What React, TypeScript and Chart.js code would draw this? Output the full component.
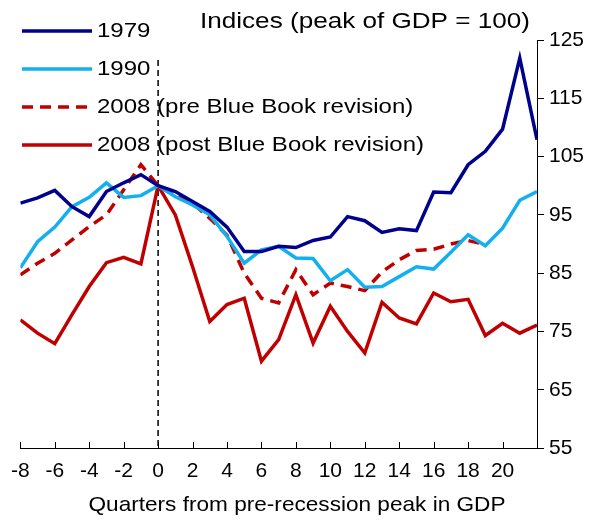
import React, { useEffect, useRef } from "react";
import { Chart, registerables } from "chart.js";

Chart.register(...registerables);

const quarters = [-8,-7,-6,-5,-4,-3,-2,-1,0,1,2,3,4,5,6,7,8,9,10,11,12,13,14,15,16,17,18,19,20,21,22];
const s1979 = [97, 97.9, 99.2, 96.4, 94.7, 99, 100.5, 101.9, 100, 99, 97.3, 95.6, 92.9, 88.7, 88.7, 89.6, 89.4, 90.6, 91.2, 94.7, 94.0, 92.0, 92.6, 92.3, 98.9, 98.8, 103.6, 105.9, 109.7, 121.9, 107.9];
const s1990 = [85.9, 90.4, 92.9, 96.4, 98.0, 100.5, 98.0, 98.3, 100, 98.1, 96.7, 95, 91.3, 86.7, 89, 89.6, 87.6, 87.5, 83.7, 85.6, 82.6, 82.7, 84.4, 86.1, 85.7, 88.6, 91.6, 89.7, 92.7, 97.5, 99.0];
const s2008pre: (number | null)[] = [84.7, 86.7, 88.4, 90.7, 93.0, 95, 99.3, 103.6, 100, 98.8, 97, 94.4, 91.5, 85, 80.7, 79.9, 85.6, 81.3, 83.3, 82.7, 82.0, 85.2, 87.3, 88.9, 89.1, 90, 90.6, 89.9, null, null, null];
const s2008post = [77, 74.7, 72.9, 77.9, 82.7, 86.8, 87.7, 86.6, 100, 95, 86.1, 76.7, 79.6, 80.7, 69.9, 73.6, 81.3, 73.0, 79.3, 75, 71.3, 80.0, 77.3, 76.3, 81.6, 80.1, 80.5, 74.3, 76.4, 74.7, 76.1];

const seriesNames = ["1979", "1990", "2008 (pre Blue Book revision)", "2008 (post Blue Book revision)"];
const seriesColors = ["#00008f", "#12b0ee", "#c00000", "#c00000"];
const seriesDashed = [false, false, true, false];
const titleText = "Indices (peak of GDP = 100)";
const xTitle = "Quarters from pre-recession peak in GDP";
const FONT = "'Liberation Sans', Arial, sans-serif";

const toPts = (arr: (number | null)[]) => quarters.map((q, i) => ({ x: q, y: arr[i] }));

function stretchText(c: CanvasRenderingContext2D, text: string, x: number, y: number, sx: number, align: "left" | "center") {
  c.save();
  const w = c.measureText(text).width * sx;
  const left = align === "center" ? x - w / 2 : x;
  c.translate(left, y);
  c.scale(sx, 1);
  c.textAlign = "left";
  c.fillText(text, 0, 0);
  c.restore();
}

export default function App() {
  const ref = useRef<HTMLCanvasElement>(null);
  useEffect(() => {
    document.body.style.margin = "0";
    const ctx = ref.current!;
    const overlay = {
      id: "overlay",
      beforeDatasetsDraw(chart: any) {
        const c = chart.ctx;
        const xs = chart.scales.x;
        const area = chart.chartArea;
        c.save();
        c.strokeStyle = "#000";
        c.lineWidth = 1.5;
        c.setLineDash([6, 4]);
        const x0 = xs.getPixelForValue(0);
        c.beginPath();
        c.moveTo(x0, 60);
        c.lineTo(x0, area.bottom);
        c.stroke();
        c.setLineDash([]);
        c.lineWidth = 1;
        for (let q = -8; q <= 22; q += 2) {
          const px = Math.round(xs.getPixelForValue(q)) + 0.5;
          c.beginPath();
          c.moveTo(px, area.bottom);
          c.lineTo(px, area.bottom - 6);
          c.stroke();
        }
        c.restore();
      },
      afterDraw(chart: any) {
        const c = chart.ctx;
        c.save();
        c.fillStyle = "#000";
        c.textBaseline = "middle";
        c.font = `22px ${FONT}`;
        stretchText(c, titleText, 365, 22, 330 / c.measureText(titleText).width, "center");
        c.font = `21px ${FONT}`;
        stretchText(c, xTitle, 297, 505, 417 / c.measureText(xTitle).width, "center");
        const ys = [31, 69, 107, 145];
        const legSx = 327 / c.measureText(seriesNames[3]).width;
        for (let i = 0; i < 4; i++) {
          c.strokeStyle = seriesColors[i];
          c.lineWidth = 3.5;
          c.setLineDash(seriesDashed[i] ? [11, 7] : []);
          c.beginPath();
          c.moveTo(22, ys[i]);
          c.lineTo(92, ys[i]);
          c.stroke();
          stretchText(c, seriesNames[i], 97, ys[i], legSx, "left");
        }
        c.restore();
      },
    };
    const chart = new Chart(ctx, {
      type: "line",
      data: {
        datasets: [s1979, s1990, s2008pre, s2008post].map((arr, i) => ({
          label: seriesNames[i],
          data: toPts(arr),
          borderColor: seriesColors[i],
          backgroundColor: seriesColors[i],
          borderWidth: 3.5,
          borderDash: seriesDashed[i] ? [11, 7] : [],
          pointRadius: 0,
          tension: 0,
          spanGaps: false,
        })),
      },
      options: {
        responsive: false,
        animation: false,
        layout: { padding: { left: 19, top: 40, right: 0, bottom: 0 } },
        plugins: { legend: { display: false }, tooltip: { enabled: false }, title: { display: false } },
        scales: {
          x: {
            type: "linear",
            min: -8,
            max: 22,
            grid: { display: true, drawOnChartArea: false, drawTicks: false, color: "#000" },
            border: { display: true, color: "#000", width: 1 },
            ticks: {
              stepSize: 2,
              autoSkip: false,
              maxRotation: 0,
              padding: 11,
              color: "#000",
              font: { size: 21, family: FONT },
              callback: (v: any) => (Number(v) > 20 ? "" : String(v)),
            },
            afterFit: (s: any) => { s.height = 75; },
          },
          y: {
            position: "right",
            min: 55,
            max: 125,
            grid: { display: true, drawOnChartArea: false, drawTicks: true, tickLength: 7, color: "#000" },
            border: { display: true, color: "#000", width: 1 },
            ticks: {
              stepSize: 10,
              padding: 5,
              color: "#000",
              font: { size: 21, family: FONT },
            },
            afterFit: (s: any) => { s.width = 63; },
          },
        },
      },
      plugins: [overlay],
    } as any);
    return () => chart.destroy();
  }, []);
  return (
    <div style={{ width: 600, height: 523 }}>
      <canvas ref={ref} width={600} height={523} />
    </div>
  );
}
